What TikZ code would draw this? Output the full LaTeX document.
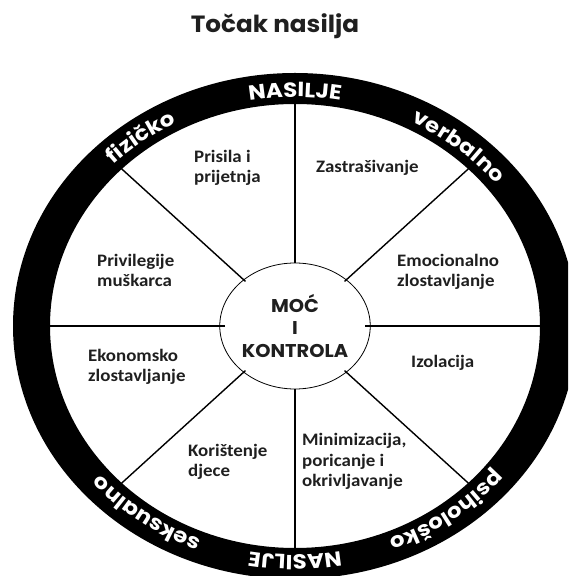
\documentclass[tikz,border=0pt]{standalone}
\usepackage{fontspec}
\setmainfont{Carlito}
\newfontfamily\segfont[FakeStretch=1.08]{Carlito}
\newfontfamily\gothic[FakeStretch=1.05]{Poppins}
\newfontfamily\ringfont[FakeStretch=1.12]{Poppins}
\usetikzlibrary{decorations.text,shapes.geometric,calc}
\begin{document}
\begin{tikzpicture}[x=1pt,y=1pt,
  seg/.style={font=\segfont\bfseries\fontsize{17.5}{20.5}\selectfont, align=left, anchor=base west, inner sep=0pt, text=black!88},
  spoke/.style={line width=1.4pt, black},
  hub/.style={draw, ellipse, minimum width=140, minimum height=126, inner sep=0pt, line width=0.8pt,
    font=\gothic\bfseries\fontsize{18.5}{22.5}\selectfont, align=center, text=black!88}
]
\useasboundingbox (0,0) rectangle (568,576);
\clip (0,0) rectangle (568,576);
\coordinate (O) at (295,250);

% title
\node[font=\gothic\bfseries\fontsize{23.5}{25}\selectfont, anchor=base, text=black!88, inner sep=0pt] (title) at (275,543) {Točak nasilja};

% hub
\node[hub] (hub) at (O) {MOĆ\\I\\KONTROLA};

% spokes
\foreach \a in {0,45,...,315} {
  \coordinate (in\a) at ($(O)+(\a:70 and 63)$);
  \coordinate (out\a) at ($(O)+(\a:246 and 223)$);
  \draw[spoke] (in\a) -- (out\a);
}

% ring
\fill[black, even odd rule] (O) ellipse[x radius=282, y radius=253] (O) ellipse[x radius=245, y radius=222];

% ring texts (clockwise path, tops outward)
\path[decorate, decoration={text along path, text align=center, text color=white,
  text={|\ringfont\bfseries\fontsize{20.5}{20.5}\selectfont|NASILJE}}]
  ($(O)+(120:256 and 229)$) arc[start angle=120, end angle=60, x radius=256, y radius=229];
\path[decorate, decoration={text along path, text align=center, text color=white,
  text={|\ringfont\bfseries\fontsize{20.5}{20.5}\selectfont|fizičko}}]
  ($(O)+(157:256 and 229)$) arc[start angle=157, end angle=97, x radius=256, y radius=229];
\path[decorate, decoration={text along path, text align=center, text color=white,
  text={|\ringfont\bfseries\fontsize{20.5}{20.5}\selectfont|verbalno}}]
  ($(O)+(80:256 and 229)$) arc[start angle=80, end angle=20, x radius=256, y radius=229];
\path[decorate, decoration={text along path, text align=center, text color=white,
  text={|\ringfont\bfseries\fontsize{20.5}{20.5}\selectfont|NASILJE}}]
  ($(O)+(300:256 and 229)$) arc[start angle=300, end angle=240, x radius=256, y radius=229];
\path[decorate, decoration={text along path, text align=center, text color=white,
  text={|\ringfont\bfseries\fontsize{20.5}{20.5}\selectfont|seksualno}}]
  ($(O)+(264:256 and 229)$) arc[start angle=264, end angle=204, x radius=256, y radius=229];
\path[decorate, decoration={text along path, text align=center, text color=white,
  text={|\ringfont\bfseries\fontsize{20.5}{20.5}\selectfont|psihološko}}]
  ($(O)+(337:256 and 229)$) arc[start angle=337, end angle=277, x radius=256, y radius=229];

% segment texts (anchor = baseline of the last line)
\node[seg] (s1) at (194,393) {Prisila i\\prijetnja};
\node[seg] (s2) at (316,403) {Zastrašivanje};
\node[seg] (s3) at (97,289) {Privilegije\\muškarca};
\node[seg] (s4) at (397,289) {Emocionalno\\zlostavljanje};
\node[seg] (s5) at (88,194) {Ekonomsko\\zlostavljanje};
\node[seg] (s6) at (411,208) {Izolacija};
\node[seg] (s7) at (188,99) {Korištenje\\djece};
\node[seg] (s8) at (302,89) {Minimizacija,\\poricanje i\\okrivljavanje};
\end{tikzpicture}
\end{document}
